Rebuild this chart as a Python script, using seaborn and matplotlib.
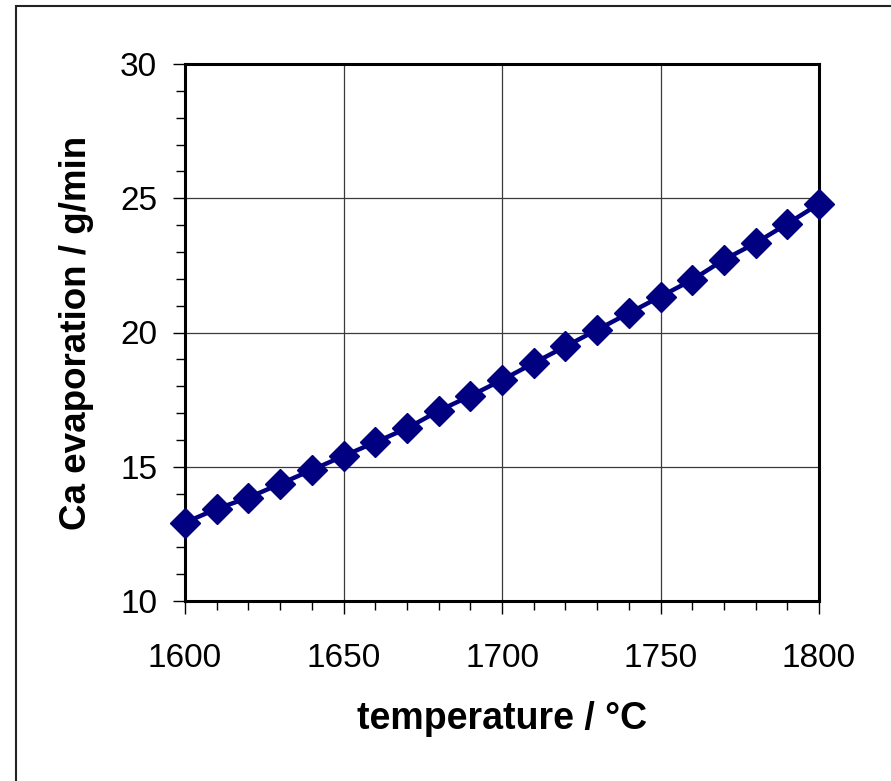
import matplotlib
matplotlib.use("Agg")
import matplotlib.pyplot as plt
from matplotlib.patches import Rectangle
from matplotlib.ticker import MultipleLocator
import seaborn as sns
import pandas as pd

temperature = [1600, 1610, 1620, 1630, 1640, 1650, 1660, 1670, 1680, 1690, 1700,
               1710, 1720, 1730, 1740, 1750, 1760, 1770, 1780, 1790, 1800]
evaporation = [12.92, 13.43, 13.85, 14.36, 14.88, 15.40, 15.91, 16.43, 17.08, 17.64, 18.23,
               18.86, 19.48, 20.10, 20.72, 21.34, 21.96, 22.71, 23.33, 24.05, 24.79]
x_ticks = [1600, 1650, 1700, 1750, 1800]
y_ticks = [10, 15, 20, 25, 30]
x_label = "temperature / °C"
y_label = "Ca evaporation / g/min"

df = pd.DataFrame({"temperature": temperature, "evaporation": evaporation})

sns.set_style("white")
plt.rcParams["font.family"] = ["Liberation Sans", "DejaVu Sans"]
plt.rcParams["text.color"] = "black"
plt.rcParams["axes.labelcolor"] = "black"
plt.rcParams["xtick.color"] = "black"
plt.rcParams["ytick.color"] = "black"

fig = plt.figure(figsize=(8.91, 7.81), dpi=100)
ax = fig.add_axes([185 / 891, 1 - 601 / 781, (819 - 185) / 891, (601 - 64) / 781])

sns.lineplot(data=df, x="temperature", y="evaporation", ax=ax, color="#000080",
             linewidth=3.2, marker="D", markersize=15, markeredgecolor="#000080",
             markeredgewidth=1, clip_on=False, zorder=5)

ax.set_xlim(1600, 1800)
ax.set_ylim(10, 30)
ax.set_xticks(x_ticks)
ax.set_yticks(y_ticks)
ax.xaxis.set_minor_locator(MultipleLocator(10))
ax.yaxis.set_minor_locator(MultipleLocator(1))
ax.grid(True, which="major", color="#3a3a3a", linewidth=0.9, zorder=0)
ax.set_axisbelow(True)

for s in ax.spines.values():
    s.set_visible(True)
    s.set_color("black")
    s.set_linewidth(2.2)

ax.tick_params(axis="both", which="major", direction="out", length=9, width=1,
               color="black", labelcolor="black", labelsize=24)
ax.tick_params(axis="both", which="minor", direction="out", length=6.5, width=1,
               color="black")
ax.tick_params(axis="x", which="major", pad=21)
ax.tick_params(axis="y", which="major", pad=11)
ax.tick_params(axis="x", which="both", bottom=True)
ax.tick_params(axis="y", which="both", left=True)

ax.set_xlabel(x_label, fontsize=27, fontweight="bold", color="black")
ax.set_ylabel(y_label, fontsize=26.5, fontweight="bold", color="black")
ax.xaxis.set_label_coords(0.5, -0.186)
ax.yaxis.set_label_coords(-0.143, 0.5)

frame = Rectangle((16 / 891, -0.1), 1.2, (781 - 6) / 781 + 0.1,
                  transform=fig.transFigure, fill=False, edgecolor="#222222",
                  linewidth=1.5, clip_on=False)
fig.patches.append(frame)

fig.savefig("out.png", dpi=100)
